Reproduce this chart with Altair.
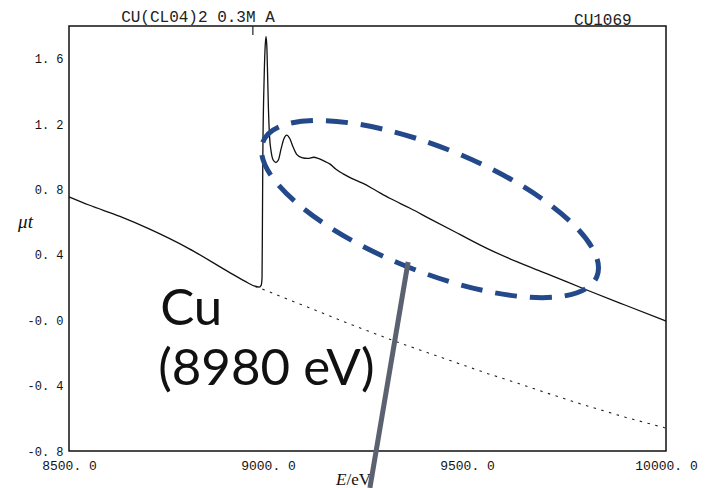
import altair as alt
import pandas as pd

# Cu K-edge absorption spectrum of Cu(ClO4)2 0.3 M (run CU1069)
energy = [8500, 8550, 8628, 8700, 8800, 8905, 8950, 8967, 8978, 8983,
          8985, 8986, 8987, 8989, 8991, 8993, 8995, 8997, 8999, 9001,
          9004, 9008, 9013, 9020, 9026, 9033, 9040, 9047, 9055, 9063,
          9072, 9085, 9100, 9115, 9126, 9140, 9156, 9170, 9189, 9210,
          9239, 9270, 9306, 9357, 9407, 9482, 9550, 9625, 9700, 9801,
          9900, 10000]
mu_t = [0.755, 0.705, 0.635, 0.56, 0.44, 0.29, 0.228, 0.208, 0.203, 0.215,
        0.26, 0.6, 1.0, 1.35, 1.55, 1.68, 1.735, 1.68, 1.5, 1.3,
        1.12, 1.03, 0.98, 0.965, 0.98, 1.05, 1.11, 1.133, 1.11, 1.06,
        1.015, 0.995, 0.99, 0.997, 0.99, 0.975, 0.955, 0.925, 0.895, 0.868,
        0.837, 0.795, 0.746, 0.685, 0.62, 0.525, 0.44, 0.358, 0.285, 0.185,
        0.09, -0.005]

# pre-edge background extrapolated past the edge (dotted)
bg_energy = [8967, 9000, 9030, 9100, 9181, 9250, 9332, 9450, 9550, 9628,
             9700, 9796, 9900, 10000]
bg_mu = [0.207, 0.178, 0.147, 0.08, 0.0, -0.065, -0.14, -0.24, -0.325, -0.386,
         -0.445, -0.52, -0.595, -0.66]

x_ticks = [8500, 9000, 9500, 10000]
x_tick_labels = ["8500. 0", "9000. 0", "9500. 0", "10000. 0"]
y_ticks = [-0.8, -0.4, 0.0, 0.4, 0.8, 1.2, 1.6]
y_tick_labels = ["-0. 8", "-0. 4", "-0. 0", "0. 4", "0. 8", "1. 2", "1. 6"]

# annotation anchors (data units)
ellipse_center = (9407, 0.68)
pointer_start = (9352, 0.356)
pointer_end = (9256, -1.026)
edge_marker = 8962

spec = pd.DataFrame({"E": energy, "mu": mu_t})
bg = pd.DataFrame({"E": bg_energy, "mu": bg_mu})


def label_expr(values, labels, scale=1):
    expr = "''"
    for v, lab in reversed(list(zip(values, labels))):
        expr = f"round(datum.value*{scale}) == {round(v * scale)} ? '{lab}' : " + expr
    return expr


x_scale = alt.Scale(domain=[8500, 10000], nice=False, zero=False)
y_scale = alt.Scale(domain=[-0.8, 1.8], nice=False, zero=False)

x_axis = alt.Axis(values=x_ticks, labelExpr=label_expr(x_ticks, x_tick_labels),
                  title=None, grid=False, domain=False, ticks=False,
                  labelFont="Liberation Mono", labelFontSize=13, labelColor="#111",
                  labelPadding=8, labelOverlap=False, labelFlush=False,
                  labelBound=False)
y_axis = alt.Axis(values=y_ticks, labelExpr=label_expr(y_ticks, y_tick_labels, 10),
                  title="μt", titleAngle=0, titleFont="Liberation Serif",
                  titleFontStyle="italic", titleFontWeight="normal", titleFontSize=19,
                  titleColor="#111", titleX=-44, titleY=195, titleAlign="center",
                  titleBaseline="middle",
                  grid=False, domain=False, ticks=False,
                  labelFont="Liberation Mono", labelFontSize=12, labelColor="#111",
                  labelPadding=6, labelOverlap=False, labelFlush=False)

X = alt.X("E:Q", scale=x_scale)
Y = alt.Y("mu:Q", scale=y_scale)

curve = alt.Chart(spec).mark_line(color="#111", strokeWidth=1.3, interpolate="monotone").encode(
    x=alt.X("E:Q", scale=x_scale, axis=x_axis),
    y=alt.Y("mu:Q", scale=y_scale, axis=y_axis),
)

background = alt.Chart(bg).mark_line(color="#222", strokeWidth=1.1, strokeDash=[2.5, 5.5]).encode(
    x=X, y=Y,
)

marker = alt.Chart(pd.DataFrame({"E": [edge_marker], "mu": [1.8], "mu2": [1.745]})).mark_rule(
    color="#222", strokeWidth=1.2).encode(
    x=X, y=Y, y2="mu2:Q",
)

# dashed ellipse drawn as a custom symbol (4-segment Bezier ellipse, axis ratio 0.344)
r = 0.344
k = 0.5523
ellipse_path = (
    f"M -1 0 C -1 {-k*r:.4f} {-k:.4f} {-r} 0 {-r} "
    f"C {k:.4f} {-r} 1 {-k*r:.4f} 1 0 "
    f"C 1 {k*r:.4f} {k:.4f} {r} 0 {r} "
    f"C {-k:.4f} {r} -1 {k*r:.4f} -1 0 Z"
)
ellipse = alt.Chart(pd.DataFrame({"E": [ellipse_center[0]], "mu": [ellipse_center[1]]})).mark_point(
    shape=ellipse_path, size=360 ** 2, angle=22, filled=False, stroke="#24498A",
    strokeWidth=5, strokeDash=[22, 13], opacity=1).encode(
    x=X, y=Y,
)

pointer = alt.Chart(pd.DataFrame({
    "E": [pointer_start[0]], "mu": [pointer_start[1]],
    "E2": [pointer_end[0]], "mu2": [pointer_end[1]],
})).mark_rule(color="#5B6170", strokeWidth=5, strokeCap="butt").encode(
    x=X, y=Y, x2="E2:Q", y2="mu2:Q",
)

big_text = pd.DataFrame({
    "E": [8729, 8724],
    "mu": [-0.03, -0.395],
    "label": ["Cu", "(8980 eV)"],
})
big_labels = alt.Chart(big_text).mark_text(
    align="left", baseline="alphabetic", font="Lato", fontSize=51, color="#111").encode(
    x=X, y=Y, text="label:N",
)

head_text = pd.DataFrame({
    "E": [8631, 9769],
    "mu": [1.826, 1.808],
    "label": ["CU(CL04)2 0.3M A", "CU1069"],
})
head_labels = alt.Chart(head_text).mark_text(
    align="left", baseline="alphabetic", font="Liberation Mono", fontSize=16, color="#222").encode(
    x=X, y=Y, text="label:N",
)

# x axis title: italic E followed by upright /eV
x_title_E = alt.Chart(pd.DataFrame({"E": [9197], "mu": [-1.008], "label": ["E"]})).mark_text(
    align="right", baseline="alphabetic", font="Liberation Serif", fontStyle="italic",
    fontSize=17, color="#111").encode(
    x=X, y=Y, text="label:N",
)
x_title_unit = alt.Chart(pd.DataFrame({"E": [9197], "mu": [-1.008], "label": ["/eV"]})).mark_text(
    align="left", baseline="alphabetic", font="Liberation Serif",
    fontSize=17, color="#111").encode(
    x=X, y=Y, text="label:N",
)

chart = alt.layer(
    curve, background, marker, head_labels, big_labels, x_title_E, x_title_unit,
    ellipse, pointer,
).properties(
    width=597,
    height=425,
    padding={"left": 69, "top": 26, "right": 40, "bottom": 37},
    autosize=alt.AutoSizeParams(type="none"),
    background="white",
).configure_view(
    stroke="#111",
    strokeWidth=1.5,
)

chart.save("out.html", embed_options={"renderer": "svg", "actions": False})
